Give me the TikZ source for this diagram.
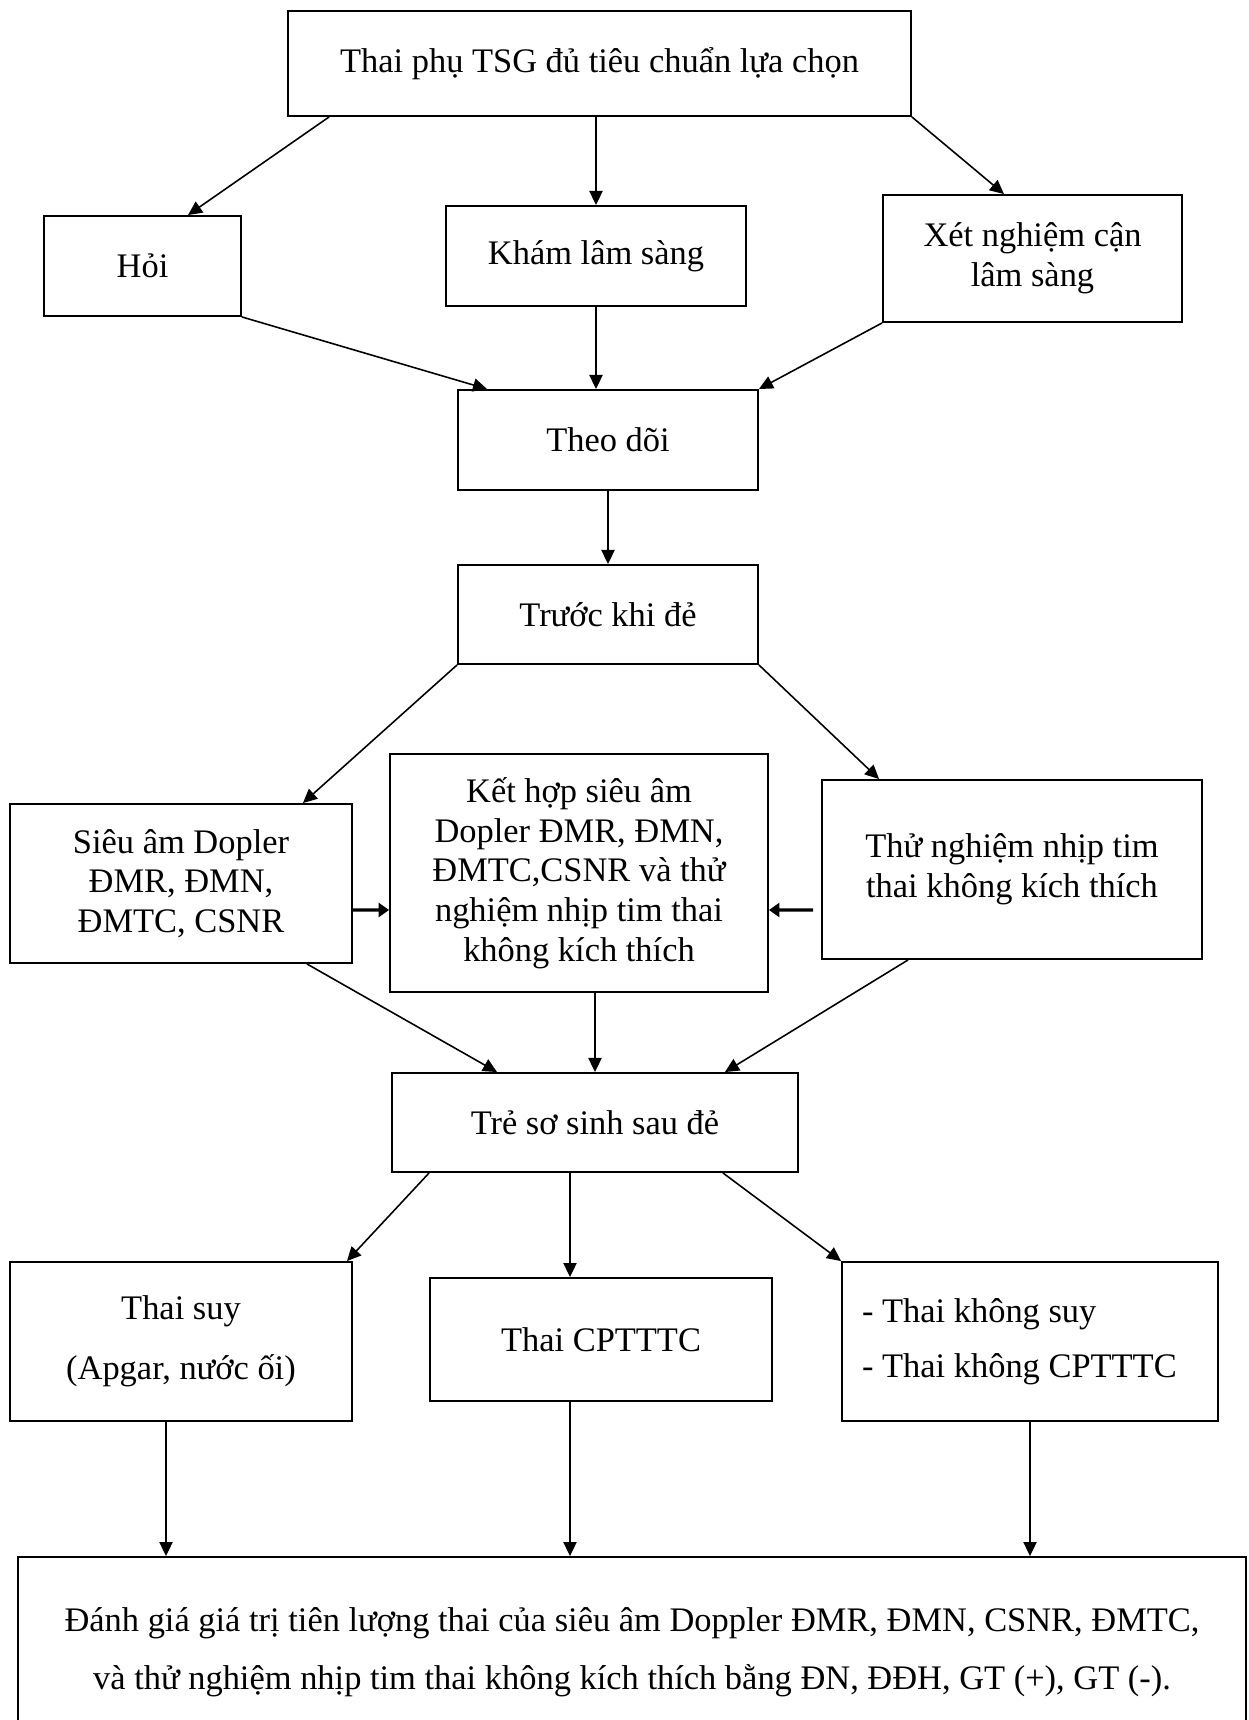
\documentclass[tikz,border=0pt]{standalone}
\usepackage{fontspec}
\setmainfont{Liberation Serif}
\usetikzlibrary{arrows.meta}

\begin{document}
\begin{tikzpicture}[
        x=0.02cm, y=-0.02cm,
        box/.style={draw, line width=1.1pt, align=center, inner sep=0pt,
                font=\fontsize{19.6}{22.6}\selectfont},
        link/.style={-{Triangle[length=8pt,width=7.5pt]}, line width=0.9pt},
        sidelink/.style={-{Triangle[length=6pt,width=8pt]}, line width=1.8pt}
    ]
    \useasboundingbox (0,0) rectangle (1248,1720);

    % Top
    \node[box, minimum width=12.46cm, minimum height=2.1cm] (chon) at (599.5,63.5) {Thai phụ TSG đủ tiêu chuẩn lựa chọn};

    % Row 1
    \node[box, minimum width=3.94cm, minimum height=2cm] (hoi) at (142.5,266) {Hỏi};
    \node[box, minimum width=6cm, minimum height=2cm] (kham) at (596,256) {Khám lâm sàng};
    \node[box, minimum width=5.98cm, minimum height=2.54cm] (xetnghiem) at (1032.5,258.5) {Xét nghiệm cận\\lâm sàng};

    \draw[link] ([xshift=0.84cm]chon.south west) -- ([xshift=0.91cm]hoi.north);
    \draw[link] (chon.south -| kham.north) -- (kham.north);
    \draw[link] (chon.south east) -- ([xshift=-0.57cm]xetnghiem.north);

    % Follow-up
    \node[box, minimum width=6cm, minimum height=2cm] (theodoi) at (608,440) {Theo dõi};
    \node[box, minimum width=6cm, minimum height=1.98cm] (truoc) at (608,614.5) {Trước khi đẻ};

    \draw[link] (hoi.south east) -- ([xshift=0.6cm]theodoi.north west);
    \draw[link] (kham.south) -- (kham.south |- theodoi.north);
    \draw[link] (xetnghiem.south west) -- (theodoi.north east);
    \draw[link] (theodoi.south) -- (truoc.north);

    % Row 2
    \node[box, minimum width=6.84cm, minimum height=3.18cm] (sieuam) at (181,883.5) {Siêu âm Dopler\\ĐMR, ĐMN,\\ĐMTC, CSNR};
    \node[box, minimum width=7.56cm, minimum height=4.76cm] (kethop) at (579,873) {Kết hợp siêu âm\\Dopler ĐMR, ĐMN,\\ĐMTC,CSNR và thử\\nghiệm nhịp tim thai\\không kích thích};
    \node[box, minimum width=7.6cm, minimum height=3.58cm] (nhiptim) at (1012,869.5) {Thử nghiệm nhịp tim\\thai không kích thích};

    \draw[link] (truoc.south west) -- ([xshift=-1cm]sieuam.north east);
    \draw[link] (truoc.south east) -- ([xshift=1.16cm]nhiptim.north west);
    \draw[sidelink] ([yshift=-0.53cm]sieuam.east) -- ([yshift=-0.74cm]kethop.west);
    \draw[sidelink] ([xshift=-0.16cm, yshift=-0.81cm]nhiptim.west) -- ([yshift=-0.74cm]kethop.east);

    % Newborn
    \node[box, minimum width=8.12cm, minimum height=1.98cm] (tresosinh) at (595,1122.5) {Trẻ sơ sinh sau đẻ};

    \draw[link] ([xshift=-0.92cm]sieuam.south east) -- ([xshift=2.12cm]tresosinh.north west);
    \draw[link] (kethop.south -| tresosinh.north) -- (tresosinh.north);
    \draw[link] ([xshift=-2.08cm]nhiptim.south) -- ([xshift=-1.48cm]tresosinh.north east);

    % Row 3
    \node[box, minimum width=6.84cm, minimum height=3.18cm, font=\fontsize{19.6}{34}\selectfont] (thaisuy) at (181,1341.5) {Thai suy\\(Apgar, nước ối)};
    \node[box, minimum width=6.84cm, minimum height=2.46cm] (cptttc) at (601,1339.5) {Thai CPTTTC};
    \node[box, minimum width=7.52cm, minimum height=3.18cm, text width=6.72cm, align=flush left, font=\fontsize{19.6}{31}\selectfont] (khongsuy) at (1030,1341.5) {- Thai không suy\\- Thai không CPTTTC};

    \draw[link] ([xshift=0.76cm]tresosinh.south west) -- ([xshift=-0.12cm]thaisuy.north east);
    \draw[link] ([xshift=-0.5cm]tresosinh.south) -- ([xshift=-0.5cm]tresosinh.south |- cptttc.north);
    \draw[link] ([xshift=-1.52cm]tresosinh.south east) -- (khongsuy.north west);

    % Evaluation
    \node[box, minimum width=24.56cm, minimum height=3.8cm, font=\fontsize{19.6}{33}\selectfont] (danhgia) at (632,1652) {Đánh giá giá trị tiên lượng thai của siêu âm Doppler ĐMR, ĐMN, CSNR, ĐMTC,\\và thử nghiệm nhịp tim thai không kích thích bằng ĐN, ĐĐH, GT (+), GT (-).};

    \draw[link] ([xshift=-0.3cm]thaisuy.south) -- ([xshift=-0.3cm]thaisuy.south |- danhgia.north);
    \draw[link] ([xshift=-0.62cm]cptttc.south) -- ([xshift=-0.62cm]cptttc.south |- danhgia.north);
    \draw[link] (khongsuy.south) -- (khongsuy.south |- danhgia.north);
\end{tikzpicture}
\end{document}
